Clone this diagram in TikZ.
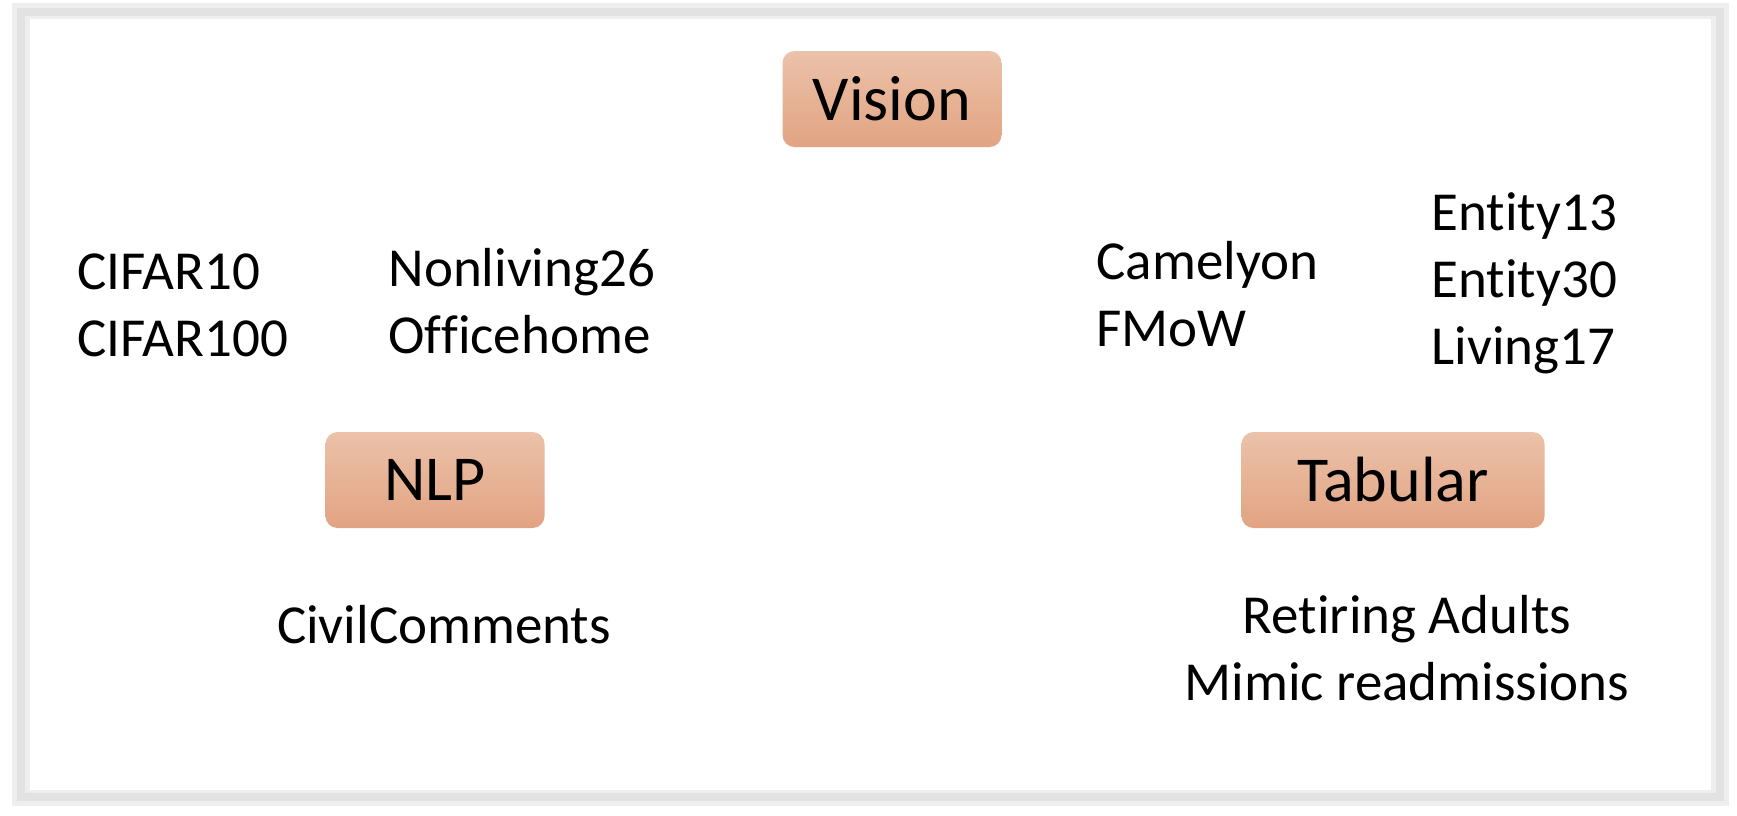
\documentclass[tikz,border=0pt]{standalone}
\usepackage{fontspec}
\setmainfont{Carlito}[Ligatures=NoCommon]
\definecolor{boxtop}{RGB}{235,194,170}
\definecolor{boxbot}{RGB}{226,163,130}
\definecolor{framegray}{RGB}{226,226,226}

\begin{document}
\begin{tikzpicture}[x=1pt, y=-1pt,
    cat/.style={rounded corners=12pt, top color=boxtop, bottom color=boxbot, minimum width=219pt, minimum height=96pt, font=\fontsize{64}{77}\selectfont},
    data/.style={align=left, anchor=base west, font=\fontsize{55}{67}\selectfont}]
    \useasboundingbox (0,0) rectangle (1737,815);
    % soft frame
    \draw[framegray!60, line width=18pt] (21,12) rectangle (1720,797);
    \draw[framegray, line width=8pt] (21,12) rectangle (1720,797);
    \fill[white] (30,19) rectangle (1711,790);

    \node[cat] at (892, 99)   (vision) {Vision};
    \node[cat] at (435, 480)  (nlp) {NLP};
    \node[cat, minimum width=303pt] at (1393, 480) (tabular) {Tabular};

    % base anchor sits on the last line
    \node[data] at (74, 356)   (cifar) {CIFAR10\\CIFAR100};
    \node[data] at (385, 353)  (nonliving) {Nonliving26\\Officehome};
    \node[data] at (1093, 346) (camelyon) {Camelyon\\FMoW};
    \node[data] at (1428, 364) (entity) {Entity13\\Entity30\\Living17};
    \node[data, anchor=base] at (444, 643) (civil) {CivilComments};
    \node[data, align=center, anchor=base] at (1407, 700) (retiring) {Retiring Adults\\Mimic readmissions};
\end{tikzpicture}
\end{document}
